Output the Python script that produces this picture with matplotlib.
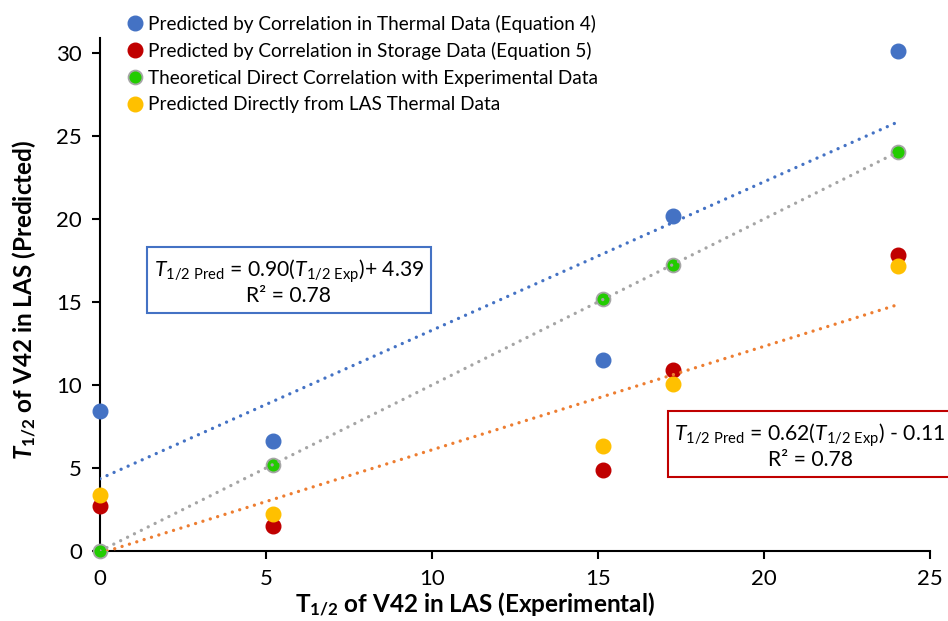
import numpy as np
import matplotlib
matplotlib.use('Agg')
import matplotlib.pyplot as plt
from matplotlib.lines import Line2D

# Experimental half-lives (x) and predicted values for each method
t_exp = [0.0, 5.2, 15.15, 17.25, 24.05]
pred_thermal = [8.45, 6.65, 11.5, 20.2, 30.1]
pred_storage = [2.7, 1.48, 4.85, 10.9, 17.8]
pred_direct = [0.0, 5.2, 15.15, 17.25, 24.05]
pred_las = [3.4, 2.2, 6.3, 10.05, 17.15]

labels = [
    'Predicted by Correlation in Thermal Data (Equation 4)',
    'Predicted by Correlation in Storage Data (Equation 5)',
    'Theoretical Direct Correlation with Experimental Data',
    'Predicted Directly from LAS Thermal Data',
]

FONT = 'Lato'
plt.rcParams['font.family'] = [FONT, 'DejaVu Sans']
plt.rcParams['mathtext.fontset'] = 'custom'
plt.rcParams['mathtext.rm'] = FONT
plt.rcParams['mathtext.it'] = FONT + ':italic'
plt.rcParams['mathtext.bf'] = FONT + ':bold'
plt.rcParams['mathtext.bfit'] = FONT + ':italic:bold'

BLUE = '#4472C4'
RED = '#C00000'
GREEN = '#22CC00'
GREY = '#A5A5A5'
YELLOW = '#FFC000'
ORANGE = '#ED7D31'


def main():
    fig = plt.figure(figsize=(9.48, 6.21), dpi=100)
    ax = fig.add_axes([100 / 948, 1 - 551 / 621, 830 / 948, 513 / 621])

    ms = 10.5
    ax.plot(t_exp, pred_thermal, 'o', color=BLUE, ms=ms, mec=BLUE, zorder=3, clip_on=False)
    ax.plot(t_exp, pred_storage, 'o', color=RED, ms=ms, mec=RED, zorder=3, clip_on=False)
    ax.plot(t_exp, pred_direct, 'o', color=GREEN, ms=ms - 0.5, mec=GREY, mew=1.3, zorder=3, clip_on=False)
    ax.plot(t_exp, pred_las, 'o', color=YELLOW, ms=ms, mec=YELLOW, zorder=3, clip_on=False)

    # linear trendlines over the data range
    xs = np.array([min(t_exp), max(t_exp)])
    dotted = dict(lw=2.4, linestyle=(0, (0.01, 2.3)), dash_capstyle='round', zorder=4)
    for series, col in [(pred_thermal, BLUE), (pred_direct, GREY), (pred_storage, ORANGE)]:
        m, b = np.polyfit(t_exp, series, 1)
        ax.plot(xs, m * xs + b, color=col, **dotted)

    ax.set_xlim(0, 25)
    ax.set_ylim(0, 30.9)
    ax.set_xticks(range(0, 26, 5))
    ax.set_yticks(range(0, 31, 5))
    ax.spines['top'].set_visible(False)
    ax.spines['right'].set_visible(False)
    for s in ['left', 'bottom']:
        ax.spines[s].set_linewidth(1.5)
    ax.tick_params(direction='out', length=6, width=1.5, labelsize=16, pad=7)

    fig.text(475 / 948, 1 - 604 / 621,
             r'$\mathbf{T}_{\mathbf{1/2}}$ of V42 in LAS (Experimental)',
             ha='center', va='center', fontsize=17.5, fontweight='bold')
    fig.text(24 / 948, 1 - 300 / 621,
             r'$\boldsymbol{T}_{\mathbf{1/2}}$ of V42 in LAS (Predicted)',
             ha='center', va='center', rotation=90, fontsize=17.5, fontweight='bold')

    handles = [
        Line2D([], [], ls='', marker='o', color=BLUE, ms=ms),
        Line2D([], [], ls='', marker='o', color=RED, ms=ms),
        Line2D([], [], ls='', marker='o', color=GREEN, mec=GREY, mew=1.3, ms=ms - 0.5),
        Line2D([], [], ls='', marker='o', color=YELLOW, ms=ms),
    ]
    fig.legend(handles, labels, loc='upper left', bbox_to_anchor=(118 / 948, 1 - 5 / 621),
               frameon=False, fontsize=13.7, handlelength=0.8, handletextpad=0.3,
               labelspacing=0.5, borderpad=0)

    fig.text(289 / 948, 1 - 282 / 621,
             r'$T_{\mathrm{1/2\ Pred}}$ = 0.90($T_{\mathrm{1/2\ Exp}}$)+ 4.39' + '\nR² = 0.78',
             ha='center', va='center', fontsize=15.2, linespacing=1.05,
             bbox=dict(boxstyle='square,pad=0.32', fc='white', ec=BLUE, lw=1.5))
    fig.text(810 / 948, 1 - 446 / 621,
             r'$T_{\mathrm{1/2\ Pred}}$ = 0.62($T_{\mathrm{1/2\ Exp}}$) - 0.11' + '\nR² = 0.78',
             ha='center', va='center', fontsize=15.2, linespacing=1.05,
             bbox=dict(boxstyle='square,pad=0.32', fc='white', ec=RED, lw=1.5))

    fig.savefig('out.png', dpi=100)


if __name__ == '__main__':
    main()
